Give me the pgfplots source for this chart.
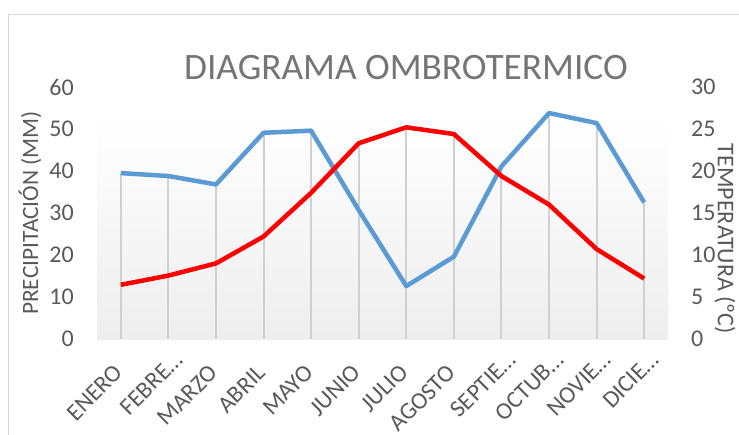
\documentclass[border=0pt]{standalone}
\usepackage{pgfplots}
\pgfplotsset{compat=1.18}
\usepackage{fontspec}
\setmainfont{Carlito}
\definecolor{precBlue}{HTML}{5B9BD5}
\definecolor{tempRed}{HTML}{FF0000}
\definecolor{txtGray}{HTML}{595959}
\definecolor{titleGray}{HTML}{757575}
\definecolor{lineGray}{HTML}{D9D9D9}
\definecolor{dropGray}{HTML}{D0D0D0}
\definecolor{bgGray}{HTML}{EEEEEE}

% month labels; truncated ones sit a little further out, as in the original
\newcommand{\lab}[1]{#1\hspace*{-5bp}}
\newcommand{\cut}[1]{#1…\hspace*{-23bp}}

\pgfplotsset{
  chartbase/.style={
    scale only axis,
    width=571bp, height=252bp,
    xmin=-0.5, xmax=11.5,
    ymin=0,
    major tick length=0pt,
    /pgf/number format/assume math mode=true,
    ticklabel style={font=\fontsize{24bp}{28bp}\selectfont, text=txtGray, inner sep=0pt},
  }
}

\begin{document}
\begin{tikzpicture}
\useasboundingbox (-97bp,-96bp) rectangle (642bp,339bp);
\draw[lineGray, line width=1.5bp] (-88.5bp,-100bp) -- (-88.5bp,324.5bp) -- (660bp,324.5bp);

\begin{axis}[
  chartbase,
  ymax=60, ytick={0,10,...,60},
  axis lines*=left,
  y axis line style={draw=none},
  x axis line style={lineGray, line width=1.5bp},
  xtick={0,...,11},
  xticklabels={\lab{ENERO},\cut{FEBRE},\lab{MARZO},\lab{ABRIL},\lab{MAYO},\lab{JUNIO},
    \lab{JULIO},\lab{AGOSTO},\cut{SEPTIE},\cut{OCTUB},\cut{NOVIE},\cut{DICIE}},
  xticklabel shift=39bp,
  xticklabel style={font=\fontsize{24bp}{28bp}\selectfont, anchor=south east, rotate=45},
  yticklabel style={anchor=east, xshift=-23bp},
  ylabel={PRECIPITACIÓN (MM)},
  ylabel style={at={(axis description cs:-0.1173,0.5)}, anchor=center, rotate=0,
    font=\fontsize{23.4bp}{28bp}\selectfont, text=txtGray},
  title={DIAGRAMA OMBROTERMICO},
  title style={at={(axis description cs:0.541,1.053)}, anchor=center,
    font=\fontsize{37.3bp}{42bp}\selectfont, text=titleGray},
]
\path[shade, top color=white, bottom color=bgGray] (rel axis cs:0,0) rectangle (rel axis cs:1,0.889);
% drop lines
\addplot[ycomb, dropGray, line width=2bp, no markers] coordinates {
  (0,39.5) (1,38.8) (2,36.8) (3,49.1) (4,49.6) (5,30.7)
  (6,12.6) (7,19.6) (8,41.1) (9,53.8) (10,51.4) (11,32.5)
};
\addplot[ycomb, dropGray, line width=2bp, no markers, y filter/.expression={2*y}] coordinates {
  (0,6.45) (1,7.55) (2,9.0) (3,12.2) (4,17.4) (5,23.3)
  (6,25.2) (7,24.4) (8,19.4) (9,16.0) (10,10.7) (11,7.2)
};
% precipitacion
\addplot[precBlue, line width=4.5bp, line join=round, no markers] coordinates {
  (0,39.5) (1,38.8) (2,36.8) (3,49.1) (4,49.6) (5,30.7)
  (6,12.6) (7,19.6) (8,41.1) (9,53.8) (10,51.4) (11,32.5)
};
\end{axis}

\begin{axis}[
  chartbase,
  ymax=30, ytick={0,5,...,30},
  axis x line=none,
  axis y line*=right,
  y axis line style={draw=none},
  yticklabel style={anchor=west, xshift=23bp},
  ylabel={TEMPERATURA (ºC)},
  ylabel style={at={(axis description cs:1.0998,0.397)}, anchor=center, rotate=180,
    font=\fontsize{24bp}{28bp}\selectfont, text=txtGray},
]
% temperatura
\addplot[tempRed, line width=4.5bp, line join=round, no markers] coordinates {
  (0,6.45) (1,7.55) (2,9.0) (3,12.2) (4,17.4) (5,23.3)
  (6,25.2) (7,24.4) (8,19.4) (9,16.0) (10,10.7) (11,7.2)
};
\end{axis}
\end{tikzpicture}
\end{document}
